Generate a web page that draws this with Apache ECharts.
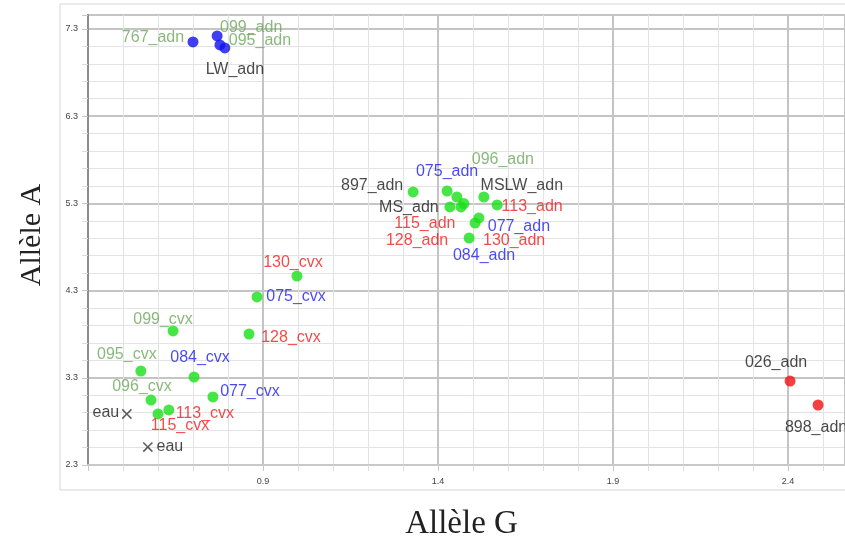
<!DOCTYPE html>
<html>
<head>
<meta charset="utf-8">
<script src="https://cdn.jsdelivr.net/npm/echarts@6/dist/echarts.min.js"></script>
<style>html,body{margin:0;padding:0;background:#fff;}#c{width:845px;height:537px;}</style>
</head>
<body>
<div id="c"></div>
<script>
// ---- data ----
const blueNames = ['767_adn','099_adn','095_adn','LW_adn'];
const blueX = [0.700,0.769,0.777,0.791];
const blueY = [7.151,7.220,7.117,7.082];

const greenNames = ['897_adn','075_adn','096_adn','MSLW_adn','113_adn','MS_adn','115_adn','128_adn','077_adn','084_adn','130_adn',
  '130_cvx','075_cvx','128_cvx','099_cvx','095_cvx','084_cvx','096_cvx','077_cvx','113_cvx','115_cvx'];
const greenX = [1.329,1.426,1.454,1.531,1.569,1.434,1.474,1.466,1.517,1.506,1.489,
  0.997,0.883,0.860,0.643,0.551,0.703,0.580,0.757,0.631,0.600];
const greenY = [5.431,5.442,5.373,5.373,5.282,5.259,5.298,5.259,5.133,5.075,4.903,
  4.467,4.227,3.802,3.837,3.378,3.309,3.045,3.080,2.931,2.885];

const redNames = ['026_adn','898_adn'];
const redX = [2.406,2.486];
const redY = [3.263,2.988];

const eauNames = ['eau','eau'];
const eauX = [0.511,0.571];
const eauY = [2.885,2.506];

const xTickLabels = ['0.9','1.4','1.9','2.4'];
const yTickLabels = ['2.3','3.3','4.3','5.3','6.3','7.3'];

// ---- label styling (offsets of label centre from the marker) ----
const blueOffsets = [[-40,-4],[34,-8],[40,-4],[10,22]];
const greenOffsets = [[-41,-6],[0,-19],[46,-37],[38,-11],[35,2],[-41,1],[-39,20],[-44,34],[40,9],[9,33],[45,3],
  [-4,-13],[39,0],[42,4],[-10,-11],[-14,-16],[6,-19],[-9,-13],[37,-5],[36,4],[22,12]];
const redOffsets = [[-14,-18],[-2,23]];
const eauOffsets = [[-21,-1],[22,0]];

function labelColor(name){
  const id = name.split('_')[0];
  if (['767','099','095','096'].includes(id)) return '#6aa85a';
  if (['075','077','084'].includes(id)) return '#1c1cf0';
  if (['113','115','128','130'].includes(id)) return '#f01c1c';
  return '#1a1a1a';
}
function build(names, xs, ys, offs){
  return names.map((n,i)=>({
    name:n, value:[xs[i], ys[i]],
    label:{show:true, formatter:n, position:'inside', offset:offs[i],
      align:'center', verticalAlign:'middle', color:labelColor(n),
      fontFamily:'Liberation Sans, Arial, sans-serif', fontSize:16}
  }));
}

const chart = echarts.init(document.getElementById('c'), null, {renderer:'canvas'});
const minorLine = {show:true, lineStyle:{color:'#e3e3e3', width:1}};
chart.setOption({
  animation:false,
  backgroundColor:'#ffffff',
  grid:{left:88, top:15, right:0, bottom:72, show:true, borderColor:'#8c8c8c', borderWidth:2,
    outerBoundsMode:'none', containLabel:false},
  graphic:[{type:'rect', shape:{x:60, y:4, width:800, height:486}, style:{fill:null, stroke:'#d6d6d6', lineWidth:1}, silent:true, z:-10}],
  xAxis:{
    type:'value', min:0.4, max:2.563, interval:0.5,
    name:'Allèle G', nameLocation:'middle', nameGap:43,
    nameTextStyle:{fontFamily:'Liberation Serif, Times New Roman, serif', fontSize:33, color:'#222', padding:[0,10,0,0]},
    axisLine:{show:true, onZero:false, lineStyle:{color:'#c8c8c8', width:2}},
    axisTick:{show:true, length:6, lineStyle:{color:'#c8c8c8'}},
    minorTick:{show:true, splitNumber:5, length:6, lineStyle:{color:'#dcdcdc'}},
    splitLine:{show:true, lineStyle:{color:'#c4c4c4', width:2}},
    minorSplitLine:minorLine,
    axisLabel:{showMinLabel:false, showMaxLabel:false, fontSize:9, color:'#444', margin:12,
      formatter:v=>{const s=v.toFixed(1); return xTickLabels.includes(s)?s:'';}}
  },
  yAxis:{
    type:'value', min:2.3, max:7.46, interval:1,
    name:'Allèle A', nameLocation:'middle', nameGap:41, nameRotate:90,
    nameTextStyle:{fontFamily:'Liberation Serif, Times New Roman, serif', fontSize:30, color:'#222', padding:[0,0,0,10]},
    axisLine:{show:true, lineStyle:{color:'#8c8c8c', width:2}},
    axisTick:{show:true, length:6, lineStyle:{color:'#c8c8c8'}},
    minorTick:{show:true, splitNumber:5, length:6, lineStyle:{color:'#dcdcdc'}},
    splitLine:{show:true, lineStyle:{color:'#c4c4c4', width:2}},
    minorSplitLine:minorLine,
    axisLabel:{showMaxLabel:false, fontSize:9, color:'#444', margin:10,
      formatter:v=>{const s=v.toFixed(1); return yTickLabels.includes(s)?s:'';}}
  },
  series:[
    {type:'scatter', symbolSize:11, itemStyle:{color:'#1010ee'}, data:build(blueNames,blueX,blueY,blueOffsets)},
    {type:'scatter', symbolSize:11, itemStyle:{color:'#18e018'}, data:build(greenNames,greenX,greenY,greenOffsets)},
    {type:'scatter', symbolSize:11, itemStyle:{color:'#f01010'}, data:build(redNames,redX,redY,redOffsets)},
    {type:'scatter', symbolSize:13, symbolRotate:45,
      symbol:'path://M4.4,0H5.6V4.4H10V5.6H5.6V10H4.4V5.6H0V4.4H4.4Z',
      itemStyle:{color:'#333'}, data:build(eauNames,eauX,eauY,eauOffsets)}
  ]
});
</script>
</body>
</html>
